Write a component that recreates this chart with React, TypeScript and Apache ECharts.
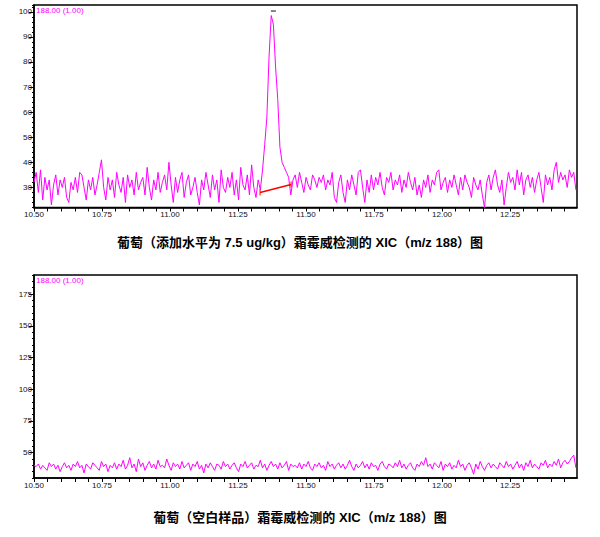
import React, { useEffect, useRef } from "react";
import * as echarts from "echarts";

// ---- data ----
const scanStart = 10.5; // min
const scanStep = 0.008; // min between scans

// Top: grape spiked at 7.5 ug/kg, XIC m/z 188
const spikedIntensity = [
  32, 36, 28, 37, 25, 34, 29, 33, 23, 31,
  35, 27, 33, 30, 34, 26, 24, 32, 29, 34,
  28, 36, 35, 30, 25, 33, 29, 34, 27, 31,
  36, 41, 30, 25, 34, 29, 33, 26, 36, 31,
  28, 34, 24, 35, 30, 33, 27, 36, 29, 32,
  34, 27, 38, 30, 25, 33, 29, 36, 28, 32,
  35, 29, 40, 31, 24, 34, 28, 33, 36, 26,
  32, 35, 27, 30, 34, 28, 23, 33, 29, 36,
  31, 26, 35, 29, 33, 24, 37, 30, 28, 34,
  30, 36, 27, 33, 25, 38, 31, 29, 35, 27,
  39, 30, 26, 33, 29, 37, 47, 58, 82, 98.5,
  95, 78, 65, 46, 40, 38, 36, 34, 27, 33,
  35, 30, 36, 32, 28, 34, 31, 29, 35, 33,
  30, 34, 32, 35, 29, 33, 31, 36, 26, 24,
  32, 35, 28, 24, 33, 29, 35, 31, 27, 36,
  37, 30, 24, 33, 28, 35, 29, 34, 31, 36,
  30, 27, 34, 32, 36, 29, 33, 31, 35, 28,
  33, 30, 36, 32, 29, 34, 27, 31, 26, 33,
  30, 35, 28, 33, 31, 36, 37, 29, 32, 34,
  28, 33, 30, 35, 31, 27, 34, 29, 35, 32,
  30, 26, 34, 31, 29, 33, 27, 22, 32, 35,
  29, 34, 37, 31, 28, 33, 23, 30, 36, 32,
  34, 29, 37, 31, 36, 27, 33, 35, 30, 34,
  28, 33, 36, 30, 24, 35, 31, 34, 29, 37,
  40, 32, 36, 33, 35, 30, 37, 34, 36, 29,
];

// Bottom: blank grape, XIC m/z 188
const blankIntensity = [
  40, 39, 41, 37, 40, 38, 36, 42, 39, 41,
  37, 40, 35, 39, 42, 38, 40, 36, 41, 39,
  43, 38, 40, 34, 41, 39, 37, 42, 40, 38,
  36, 43, 39, 41, 35, 40, 38, 42, 37, 41,
  39, 44, 37, 40, 46, 38, 41, 35, 45, 39,
  42, 36, 40, 43, 38, 41, 37, 44, 39, 40,
  38, 45, 40, 36, 42, 39, 41, 37, 43, 38,
  40, 42, 36, 41, 39, 43, 37, 40, 34, 41,
  38, 42, 39, 36, 41, 40, 37, 43, 39, 41,
  37, 40, 42, 38, 35, 41, 39, 43, 38, 40,
  42, 37, 40, 39, 44, 38, 41, 36, 40, 43,
  39, 41, 37, 42, 38, 40, 43, 36, 41, 39,
  40, 38, 42, 37, 41, 39, 43, 38, 36, 41,
  39, 42, 38, 40, 36, 43, 39, 41, 37, 40,
  42, 38, 41, 37, 40, 44, 39, 36, 41, 38,
  40, 43, 38, 41, 37, 42, 39, 40, 36, 41,
  43, 39, 37, 41, 40, 38, 42, 39, 44, 38,
  41, 37, 40, 42, 38, 36, 41, 39, 43, 40,
  46, 39, 41, 37, 42, 40, 38, 43, 36, 41,
  39, 42, 37, 40, 38, 44, 39, 41, 36, 40,
  42, 38, 33, 41, 37, 43, 39, 36, 40, 42,
  38, 41, 39, 37, 42, 40, 38, 43, 39, 41,
  37, 40, 43, 38, 41, 36, 42, 39, 44, 38,
  41, 39, 37, 42, 40, 44, 38, 41, 39, 43,
  40, 45, 38, 42, 44, 41, 43, 46, 48, 38,
];

// integration baseline of the peak (time, intensity)
const baselineTimes = [11.331, 11.445];
const baselineValues = [28, 31.2];
// apex marker
const apexTime = [11.38];
const apexValue = [100.3];

const xMin = 10.5;
const xMax = 12.496;

const traceLabel = "188.00 (1.00)";
const titleTop = "葡萄（添加水平为 7.5 ug/kg）霜霉威检测的 XIC（m/z 188）图";
const titleBottom = "葡萄（空白样品）霜霉威检测的 XIC（m/z 188）图";

const topY = { min: 22, max: 102.7, minor: 2, majorMin: 30, majorMax: 100, major: 10 };
const botY = { min: 30, max: 190, minor: 5, majorMin: 50, majorMax: 175, major: 25 };

const MAGENTA = "#ff00ff";
const FONT = '"Liberation Sans", Arial, sans-serif';

function xFormatter(v: number) {
  const k = Math.round(v * 4);
  if (Math.abs(v * 4 - k) < 1e-6) return v.toFixed(2);
  return "";
}

export default function App() {
  const ref = useRef<HTMLDivElement>(null);

  useEffect(() => {
    if (!ref.current) return;
    const chart = echarts.init(ref.current, null, { renderer: "svg" });

    const gridLeft = 34;
    const gridWidth = 543;
    const g0 = { top: 5, height: 202.5 };
    const g2 = { top: 275, height: 203 };
    const pxPer0 = g0.height / (topY.max - topY.min);
    const pxPer2 = g2.height / (botY.max - botY.min);
    const g1 = {
      top: g0.top + (topY.max - topY.majorMax) * pxPer0,
      height: (topY.majorMax - topY.majorMin) * pxPer0,
    };
    const g3 = {
      top: g2.top + (botY.max - botY.majorMax) * pxPer2,
      height: (botY.majorMax - botY.majorMin) * pxPer2,
    };

    const topData = spikedIntensity.map((v, i) => [scanStart + i * scanStep, v]);
    const botData = blankIntensity.map((v, i) => [scanStart + i * scanStep, v]);
    const baseData = baselineTimes.map((t, i) => [t, baselineValues[i]]);
    const apexData = apexTime.map((t, i) => [t, apexValue[i]]);

    const mainX = (gridIndex: number) => ({
      type: "value",
      gridIndex,
      min: xMin,
      max: xMax,
      interval: 0.05,
      axisLine: { show: true, lineStyle: { color: "#000", width: 1.5 } },
      axisTick: { show: true, length: 4, lineStyle: { color: "#000", width: 1 } },
      axisLabel: {
        formatter: xFormatter,
        fontSize: 8,
        fontFamily: FONT,
        color: "#111",
        margin: 3,
        showMaxLabel: false,
      },
      splitLine: { show: false },
    });
    const hiddenX = (gridIndex: number) => ({
      type: "value",
      gridIndex,
      min: 0,
      max: 1,
      show: false,
    });
    const minorY = (gridIndex: number, s: typeof topY) => ({
      type: "value",
      gridIndex,
      min: s.min,
      max: s.max,
      interval: s.minor,
      axisLine: { show: true, lineStyle: { color: "#000", width: 1.5 } },
      axisTick: { show: true, length: 2, lineStyle: { color: "#000", width: 1 } },
      axisLabel: { show: false },
      splitLine: { show: false },
    });
    const majorY = (gridIndex: number, s: typeof topY) => ({
      type: "value",
      gridIndex,
      min: s.majorMin,
      max: s.majorMax,
      interval: s.major,
      axisLine: { show: false },
      axisTick: { show: true, length: 5, lineStyle: { color: "#000", width: 1 } },
      axisLabel: { fontSize: 8, fontFamily: FONT, color: "#111", margin: 2 },
      splitLine: { show: false },
    });

    chart.setOption({
      animation: false,
      backgroundColor: "#fff",
      grid: [
        { left: gridLeft, width: gridWidth, top: g0.top, height: g0.height, show: true, borderColor: "#000", borderWidth: 1.5, containLabel: false },
        { left: gridLeft, width: gridWidth, top: g1.top, height: g1.height, containLabel: false },
        { left: gridLeft, width: gridWidth, top: g2.top, height: g2.height, show: true, borderColor: "#000", borderWidth: 1.5, containLabel: false },
        { left: gridLeft, width: gridWidth, top: g3.top, height: g3.height, containLabel: false },
      ],
      xAxis: [mainX(0), hiddenX(1), mainX(2), hiddenX(3)],
      yAxis: [minorY(0, topY), majorY(1, topY), minorY(2, botY), majorY(3, botY)],
      series: [
        {
          type: "line",
          xAxisIndex: 0,
          yAxisIndex: 0,
          data: topData,
          showSymbol: false,
          lineStyle: { color: MAGENTA, width: 1 },
          itemStyle: { color: MAGENTA },
          z: 2,
        },
        {
          type: "line",
          xAxisIndex: 0,
          yAxisIndex: 0,
          data: baseData,
          showSymbol: true,
          symbol: "rect",
          symbolSize: [1, 6],
          lineStyle: { color: "#ff0000", width: 1.5 },
          itemStyle: { color: "#ff0000" },
          z: 3,
        },
        {
          type: "scatter",
          xAxisIndex: 0,
          yAxisIndex: 0,
          data: apexData,
          symbol: "rect",
          symbolSize: [5, 1.2],
          itemStyle: { color: "#000" },
          z: 4,
        },
        {
          type: "line",
          xAxisIndex: 2,
          yAxisIndex: 2,
          data: botData,
          showSymbol: false,
          lineStyle: { color: MAGENTA, width: 1 },
          itemStyle: { color: MAGENTA },
          z: 2,
        },
      ],
      graphic: [
        {
          type: "text",
          left: gridLeft + 2,
          top: g0.top + 1,
          style: { text: traceLabel, fill: MAGENTA, fontSize: 8, fontFamily: FONT },
          z: 10,
        },
        {
          type: "text",
          left: gridLeft + 2,
          top: g2.top + 1,
          style: { text: traceLabel, fill: MAGENTA, fontSize: 8, fontFamily: FONT },
          z: 10,
        },
        {
          type: "text",
          left: "center",
          top: 236,
          style: {
            text: titleTop,
            fill: "#000",
            fontSize: 13,
            fontWeight: "bold",
            fontFamily: '"Liberation Sans", Arial, "Noto Sans CJK SC", sans-serif',
          },
        },
        {
          type: "text",
          left: "center",
          top: 511,
          style: {
            text: titleBottom,
            fill: "#000",
            fontSize: 13,
            fontWeight: "bold",
            fontFamily: '"Liberation Sans", Arial, "Noto Sans CJK SC", sans-serif',
          },
        },
      ],
    });

    return () => {
      chart.dispose();
    };
  }, []);

  return (
    <div
      ref={ref}
      style={{ position: "absolute", left: 0, top: 0, width: 600, height: 537, background: "#fff" }}
    />
  );
}
